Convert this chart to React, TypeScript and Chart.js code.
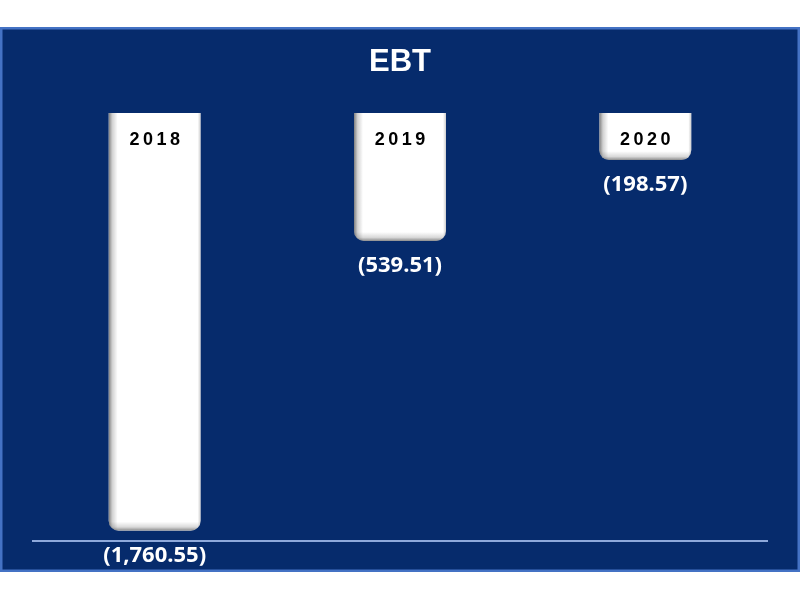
import React, { useEffect, useRef } from "react";
import { Chart, registerables } from "chart.js";

Chart.register(...registerables);

const categories = ["2018", "2019", "2020"];
const ebtValues = [-1760.55, -539.51, -198.57];
const chartTitle = "EBT";
const yMin = -1800;
const yMax = 0;

const BG = "#062B6C";
const FRAME = "#4472C4";
const LINE = "#8EA9DB";

function fmt(v: number): string {
  const s = Math.abs(v).toLocaleString("en-US", { minimumFractionDigits: 2, maximumFractionDigits: 2 });
  return v < 0 ? `(${s})` : s;
}

const framePlugin = {
  id: "frame",
  beforeDraw(chart: any) {
    const ctx = chart.ctx;
    ctx.save();
    ctx.fillStyle = "#ffffff";
    ctx.fillRect(0, 0, chart.width, chart.height);
    ctx.fillStyle = BG;
    ctx.fillRect(0, 27, 800, 545);
    ctx.strokeStyle = FRAME;
    ctx.lineWidth = 2.5;
    ctx.strokeRect(1.25, 28.25, 797.5, 542.5);
    ctx.restore();
  },
  beforeDatasetsDraw(chart: any) {
    const ctx = chart.ctx;
    const a = chart.chartArea;
    ctx.save();
    ctx.strokeStyle = LINE;
    ctx.lineWidth = 2;
    ctx.beginPath();
    ctx.moveTo(a.left, a.bottom + 1);
    ctx.lineTo(a.right, a.bottom + 1);
    ctx.stroke();
    ctx.restore();
  },
  afterDatasetsDraw(chart: any) {
    const ctx = chart.ctx;
    const meta = chart.getDatasetMeta(0);
    const ds = chart.data.datasets[0];
    meta.data.forEach((bar: any, i: number) => {
      const p = bar.getProps(["x", "y", "base", "width"], true);
      const x0 = p.x - p.width / 2;
      const x1 = p.x + p.width / 2;
      const top = Math.min(p.y, p.base);
      const bottom = Math.max(p.y, p.base);
      const h = bottom - top;
      const r = Math.min(10, h / 2);
      ctx.save();
      ctx.beginPath();
      ctx.roundRect(x0, top, p.width, h, [0, 0, r, r]);
      ctx.clip();
      let g = ctx.createLinearGradient(x0, 0, x0 + 9, 0);
      g.addColorStop(0, "rgba(0,0,0,0.5)");
      g.addColorStop(0.4, "rgba(0,0,0,0.18)");
      g.addColorStop(1, "rgba(0,0,0,0)");
      ctx.fillStyle = g;
      ctx.fillRect(x0, top, 9, h);
      g = ctx.createLinearGradient(x1, 0, x1 - 3, 0);
      g.addColorStop(0, "rgba(0,0,0,0.2)");
      g.addColorStop(1, "rgba(0,0,0,0)");
      ctx.fillStyle = g;
      ctx.fillRect(x1 - 3, top, 3, h);
      g = ctx.createLinearGradient(0, bottom, 0, bottom - 9);
      g.addColorStop(0, "rgba(0,0,0,0.45)");
      g.addColorStop(0.4, "rgba(0,0,0,0.15)");
      g.addColorStop(1, "rgba(0,0,0,0)");
      ctx.fillStyle = g;
      ctx.fillRect(x0, bottom - 9, p.width, 9);
      ctx.restore();

      ctx.save();
      ctx.fillStyle = "#000000";
      ctx.font = "bold 18px 'Liberation Sans', Arial, sans-serif";
      (ctx as any).letterSpacing = "3.5px";
      ctx.textAlign = "center";
      ctx.textBaseline = "middle";
      ctx.fillText(chart.data.labels[i], p.x + 1.75, top + 27.5);
      ctx.restore();

      ctx.save();
      ctx.fillStyle = "#ffffff";
      ctx.font = "bold 22px 'Open Sans', sans-serif";
      ctx.textAlign = "center";
      ctx.textBaseline = "middle";
      ctx.fillText(fmt(ds.data[i]), p.x, bottom + 25);
      ctx.restore();
    });
  },
};

export default function App() {
  const ref = useRef<HTMLCanvasElement | null>(null);
  useEffect(() => {
    if (!ref.current) return;
    const chart = new Chart(ref.current, {
      type: "bar",
      data: {
        labels: categories,
        datasets: [
          {
            data: ebtValues,
            backgroundColor: "#ffffff",
            borderWidth: 0,
            borderRadius: 10,
            borderSkipped: "start",
            barPercentage: 0.375,
            categoryPercentage: 1,
          },
        ],
      },
      options: {
        responsive: false,
        animation: false,
        layout: { padding: { left: 32, right: 32, top: 0, bottom: 60 } },
        plugins: {
          legend: { display: false },
          tooltip: { enabled: false },
          title: {
            display: true,
            text: chartTitle,
            color: "#ffffff",
            font: { family: "'Liberation Sans', Arial, sans-serif", size: 31, weight: "bold" },
            padding: { top: 44, bottom: 31.8 },
          },
        },
        scales: {
          x: { display: false },
          y: { display: false, min: yMin, max: yMax },
        },
      },
      plugins: [framePlugin],
    });
    return () => chart.destroy();
  }, []);
  return (
    <div style={{ position: "fixed", left: 0, top: 0, width: 800, height: 600 }}>
      <canvas ref={ref} width={800} height={600} />
    </div>
  );
}
